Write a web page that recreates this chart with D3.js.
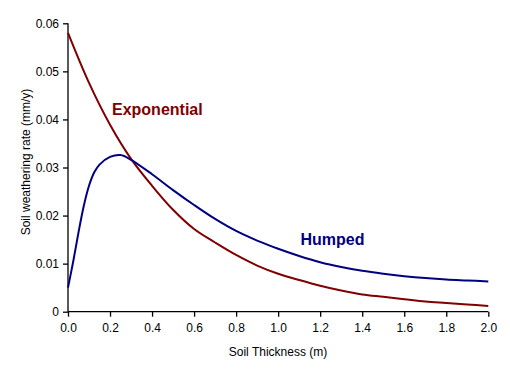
<!DOCTYPE html>
<html><head><meta charset="utf-8">
<script src="https://cdn.jsdelivr.net/npm/d3@7"></script>
<style>body{margin:0;background:#fff;} text{font-family:Arial,"Liberation Sans",sans-serif;}</style>
</head><body><svg id="c" width="510" height="373"></svg>
<script>
const expX = [0,0.1,0.2,0.3,0.4,0.5,0.6,0.7,0.8,0.9,1.0,1.1,1.2,1.3,1.4,1.5,1.6,1.7,1.8,1.9,2.0];
const expY = [0.058,0.0476,0.0389,0.0318,0.0262,0.0212,0.0172,0.0144,0.0118,0.0096,0.0079,0.0066,0.0054,0.0044,0.0036,0.0031,0.0026,0.0021,0.0018,0.0015,0.0012];
const humpX = [0,0.025,0.05,0.075,0.1,0.125,0.15,0.2,0.25,0.3,0.4,0.5,0.6,0.7,0.8,0.9,1.0,1.1,1.2,1.3,1.4,1.5,1.6,1.7,1.8,1.9,2.0];
const humpY = [0.0050,0.0105,0.0165,0.0220,0.0262,0.0290,0.0306,0.0322,0.0326,0.0316,0.0286,0.0253,0.0222,0.0193,0.0168,0.0148,0.0131,0.0116,0.0103,0.0093,0.0085,0.0079,0.0074,0.0070,0.0067,0.0065,0.0063];
const xTicks = [0,0.2,0.4,0.6,0.8,1.0,1.2,1.4,1.6,1.8,2.0];
const yTicks = [0,0.01,0.02,0.03,0.04,0.05,0.06];
const seriesNames = ["Exponential","Humped"];
const colors = ["#800000","#000080"];

const svg = d3.select("#c");
const x = d3.scaleLinear().domain([0,2]).range([68,488.3]);
const y = d3.scaleLinear().domain([0,0.06]).range([311.7,23.3]);

const xa = svg.append("g").attr("transform","translate(0,311.7)")
  .call(d3.axisBottom(x).tickValues(xTicks).tickFormat(d3.format(".1f")).tickSize(5).tickPadding(7));
const ya = svg.append("g").attr("transform","translate(68,0)")
  .call(d3.axisLeft(y).tickValues(yTicks).tickFormat(d=>d===0?"0":d3.format(".2f")(d)).tickSize(5).tickPadding(4));
[xa,ya].forEach(a=>{
  a.selectAll("path").attr("stroke","#000").attr("stroke-width",1.3);
  a.selectAll("line").attr("stroke","#000").attr("stroke-width",1.3);
  a.selectAll("text").attr("font-size",12).attr("fill","#000").attr("font-family","Arial, 'Liberation Sans', sans-serif");
});
ya.select(".domain").attr("d","M0,311.7V23.3");
xa.select(".domain").attr("d","M68,0H488.3");

const line = d3.line().x(d=>x(d[0])).y(d=>y(d[1])).curve(d3.curveCatmullRom);
svg.append("path").datum(expX.map((v,i)=>[v,expY[i]])).attr("d",line)
  .attr("fill","none").attr("stroke",colors[0]).attr("stroke-width",2);
svg.append("path").datum(humpX.map((v,i)=>[v,humpY[i]])).attr("d",line)
  .attr("fill","none").attr("stroke",colors[1]).attr("stroke-width",2);

svg.append("text").attr("x",112).attr("y",115).attr("font-size",16).attr("font-weight","bold")
  .attr("fill",colors[0]).text(seriesNames[0]);
svg.append("text").attr("x",300.5).attr("y",245).attr("font-size",16).attr("font-weight","bold")
  .attr("fill",colors[1]).text(seriesNames[1]);

svg.append("text").attr("x",278).attr("y",356).attr("text-anchor","middle").attr("font-size",12)
  .text("Soil Thickness (m)");
svg.append("text").attr("transform","translate(30,162) rotate(-90)").attr("text-anchor","middle").attr("font-size",12)
  .text("Soil weathering rate (mm/y)");
</script></body></html>
